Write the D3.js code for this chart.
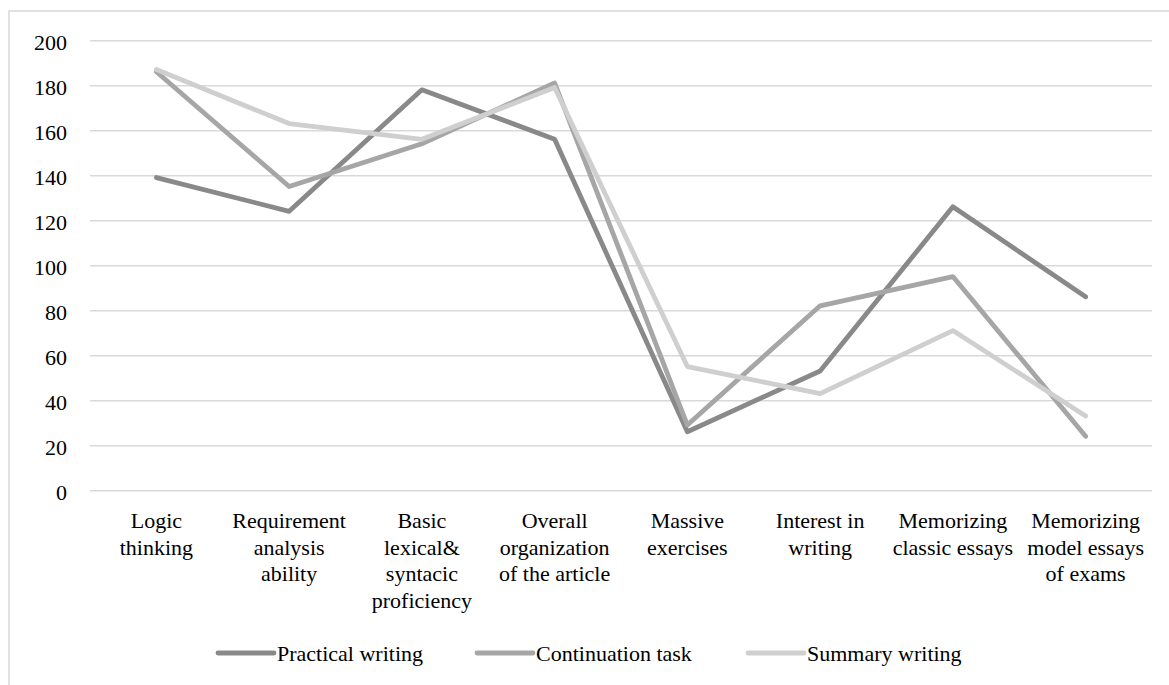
<!DOCTYPE html>
<html>
<head>
<meta charset="utf-8">
<script src="https://cdn.jsdelivr.net/npm/d3@7/dist/d3.min.js"></script>
</head>
<body style="margin:0">
<svg id="chart" width="1169" height="685"></svg>
<script>
// Factor categories, each label split into its printed lines
const categories = [
  "Logic thinking",
  "Requirement analysis ability",
  "Basic lexical& syntacic proficiency",
  "Overall organization of the article",
  "Massive exercises",
  "Interest in writing",
  "Memorizing classic essays",
  "Memorizing model essays of exams"
];
const categoryLines = [
  ["Logic", "thinking"],
  ["Requirement", "analysis", "ability"],
  ["Basic", "lexical&", "syntacic", "proficiency"],
  ["Overall", "organization", "of the article"],
  ["Massive", "exercises"],
  ["Interest in", "writing"],
  ["Memorizing", "classic essays"],
  ["Memorizing", "model essays", "of exams"]
];

// Series values per category
const practicalWriting   = [139, 124, 178, 156, 26, 53, 126, 86];
const continuationTask   = [186, 135, 154, 181, 29, 82, 95, 24];
const summaryWriting     = [187, 163, 156, 179, 55, 43, 71, 33];

const seriesNames  = ["Practical writing", "Continuation task", "Summary writing"];
const seriesColors = ["#898989", "#a6a6a6", "#cfcfcf"];
const yTicks = [0, 20, 40, 60, 80, 100, 120, 140, 160, 180, 200];

const FONT = "Liberation Serif";

// Apply the serif face to a text selection
function serif(sel) {
  sel.attr("font-family", FONT)
    .style("font-family", FONT, "important")
    .style("font-size", "22px", "important")
    .attr("fill", "#000");
}

const series = [practicalWriting, continuationTask, summaryWriting].map((values, i) => ({
  name: seriesNames[i],
  color: seriesColors[i],
  values: values
}));

const svg = d3.select("#chart");

// Outer chart frame
svg.append("rect")
  .attr("x", 9).attr("y", 11)
  .attr("width", 1180).attr("height", 700)
  .attr("fill", "#fff")
  .attr("stroke", "#d9d9d9")
  .attr("stroke-width", 1.5);

const plot = { left: 90, right: 1152, top: 40.3, bottom: 490.3 };

const x = d3.scalePoint()
  .domain(categories)
  .range([plot.left, plot.right])
  .padding(0.5);

const y = d3.scaleLinear()
  .domain([0, 200])
  .range([plot.bottom, plot.top]);

// Horizontal gridlines with value labels
const yG = svg.append("g")
  .attr("transform", `translate(${plot.left},0)`)
  .call(d3.axisLeft(y)
    .tickValues(yTicks)
    .tickSize(-(plot.right - plot.left))
    .tickPadding(23));
yG.select(".domain").remove();
yG.selectAll(".tick line")
  .attr("stroke", "#d9d9d9")
  .attr("stroke-width", 1.5);
yG.selectAll(".tick text")
  .attr("dy", "0.42em")
  .call(serif);

// Category labels under the plot
const catText = svg.append("g")
  .selectAll("text")
  .data(categories)
  .join("text")
  .attr("transform", d => `translate(${x(d)},${plot.bottom})`)
  .attr("text-anchor", "middle")
  .call(serif);
catText.each(function(d, i) {
  const t = d3.select(this);
  categoryLines[i].forEach((lineText, k) => {
    t.append("tspan")
      .attr("x", 0)
      .attr("y", 38 + k * 26.6)
      .text(lineText);
  });
});

// Series lines
const line = d3.line()
  .x((d, i) => x(categories[i]))
  .y(d => y(d));

svg.append("g")
  .selectAll("path")
  .data(series)
  .join("path")
  .attr("d", d => line(d.values))
  .attr("fill", "none")
  .attr("stroke", d => d.color)
  .attr("stroke-width", 4.8)
  .attr("stroke-linejoin", "round")
  .attr("stroke-linecap", "round");

// Legend
const legendPos = [218, 477, 748];
const items = svg.append("g")
  .attr("transform", "translate(0,653)")
  .selectAll("g")
  .data(series)
  .join("g")
  .attr("transform", (d, i) => `translate(${legendPos[i]},0)`);
items.append("line")
  .attr("x1", 0).attr("x2", 56)
  .attr("y1", 0).attr("y2", 0)
  .attr("stroke", d => d.color)
  .attr("stroke-width", 4.8)
  .attr("stroke-linecap", "round");
items.append("text")
  .attr("x", 59)
  .attr("y", 7.5)
  .call(serif)
  .text(d => d.name);
</script>
</body>
</html>
